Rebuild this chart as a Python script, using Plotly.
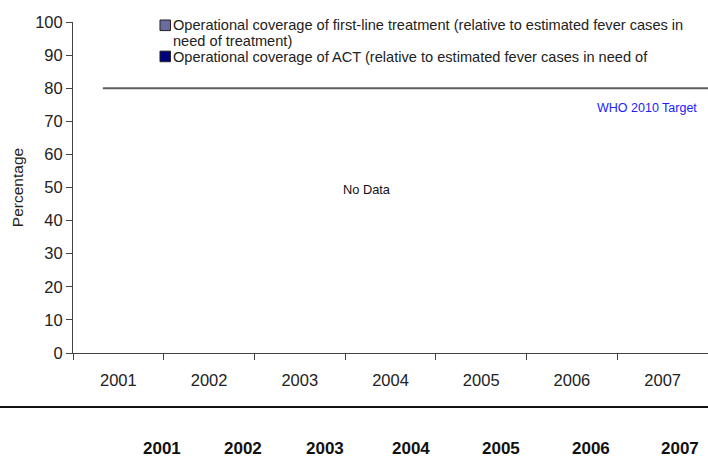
import plotly.graph_objects as go

# données
ANNEES = ["2001", "2002", "2003", "2004", "2005", "2006", "2007"]
COUVERTURE_1ERE_LIGNE = [None, None, None, None, None, None, None]
COUVERTURE_ACT = [None, None, None, None, None, None, None]
CIBLE_OMS = 80

SERIES = [
    ("Operational coverage of first-line treatment (relative to estimated fever cases in",
     COUVERTURE_1ERE_LIGNE, "#6B6B9E"),
    ("Operational coverage of ACT (relative to estimated fever cases in need of",
     COUVERTURE_ACT, "#00007F"),
]

POLICE = "Liberation Sans, Arial, sans-serif"

fig = go.Figure()
for nom, valeurs, couleur in SERIES:
    fig.add_trace(
        go.Bar(x=ANNEES, y=valeurs, name=nom, marker=dict(color=couleur),
               showlegend=False)
    )

# ligne cible OMS
fig.add_shape(type="line", xref="paper", yref="y", x0=0.047, x1=1,
              y0=CIBLE_OMS, y1=CIBLE_OMS, line=dict(color="#606060", width=2))
fig.add_annotation(text="WHO 2010 Target", xref="paper", yref="paper",
                   x=0.986, y=0.74, xanchor="right", yanchor="middle",
                   showarrow=False, font=dict(family=POLICE, size=12.5, color="#2020FF"))
fig.add_annotation(text="No Data", xref="paper", yref="paper",
                   x=0.4625, y=0.4925, xanchor="center", yanchor="middle",
                   showarrow=False, font=dict(family=POLICE, size=12.8, color="#111111"))

# légende dessinée à la main (carrés + texte)
legende_y = [0.99, 0.896]
for (nom, _, couleur), y in zip(SERIES, legende_y):
    fig.add_shape(type="rect", xref="paper", yref="paper",
                  x0=0.137, x1=0.1535, y0=y - 0.016, y1=y + 0.016,
                  fillcolor=couleur, line=dict(color="#222222", width=1))
lignes_legende = [
    (SERIES[0][0], 0.99),
    ("need of treatment)", 0.942),
    (SERIES[1][0], 0.893),
]
for texte, y in lignes_legende:
    fig.add_annotation(text=texte, xref="paper", yref="paper",
                       x=0.155, y=y, xanchor="left", yanchor="middle",
                       align="left", showarrow=False,
                       font=dict(family=POLICE, size=14.6, color="#222222"))

# tableau sous le graphique
fig.add_shape(type="line", xref="paper", yref="paper", x0=-0.115, x1=1,
              y0=-0.163, y1=-0.163, line=dict(color="#111111", width=2))
TABLE_X = [0.140, 0.268, 0.397, 0.532, 0.674, 0.816, 0.956]
for annee, x in zip(ANNEES, TABLE_X):
    fig.add_annotation(text=f"<b>{annee}</b>", xref="paper", yref="paper",
                       x=x, y=-0.29, xanchor="center", yanchor="middle",
                       showarrow=False, font=dict(family=POLICE, size=17, color="#111111"))

fig.update_layout(
    width=708, height=459,
    margin=dict(l=73, r=0, t=22, b=106),
    paper_bgcolor="white", plot_bgcolor="white",
    font=dict(family=POLICE, size=16, color="#222222"),
    showlegend=False,
    bargap=0.3,
)
fig.update_xaxes(
    type="category", range=[-0.5, 6.5], tickson="boundaries",
    ticks="outside", ticklen=6, tickcolor="#444444",
    showline=True, linecolor="#444444", linewidth=1,
    showgrid=False, zeroline=False, ticklabelstandoff=12,
    tickfont=dict(family=POLICE, size=16.5, color="#222222"),
)
fig.update_yaxes(
    range=[0, 100], dtick=10, ticks="outside", ticklen=6, tickcolor="#444444",
    showline=True, linecolor="#444444", linewidth=1,
    showgrid=False, zeroline=False,
    tickfont=dict(family=POLICE, size=16.5, color="#222222"),
    title=dict(text="Percentage", font=dict(family=POLICE, size=15.5, color="#222222"),
               standoff=7),
)

fig.write_html("out.html", config={"displayModeBar": False},
               post_script="document.body.style.margin='0';")
